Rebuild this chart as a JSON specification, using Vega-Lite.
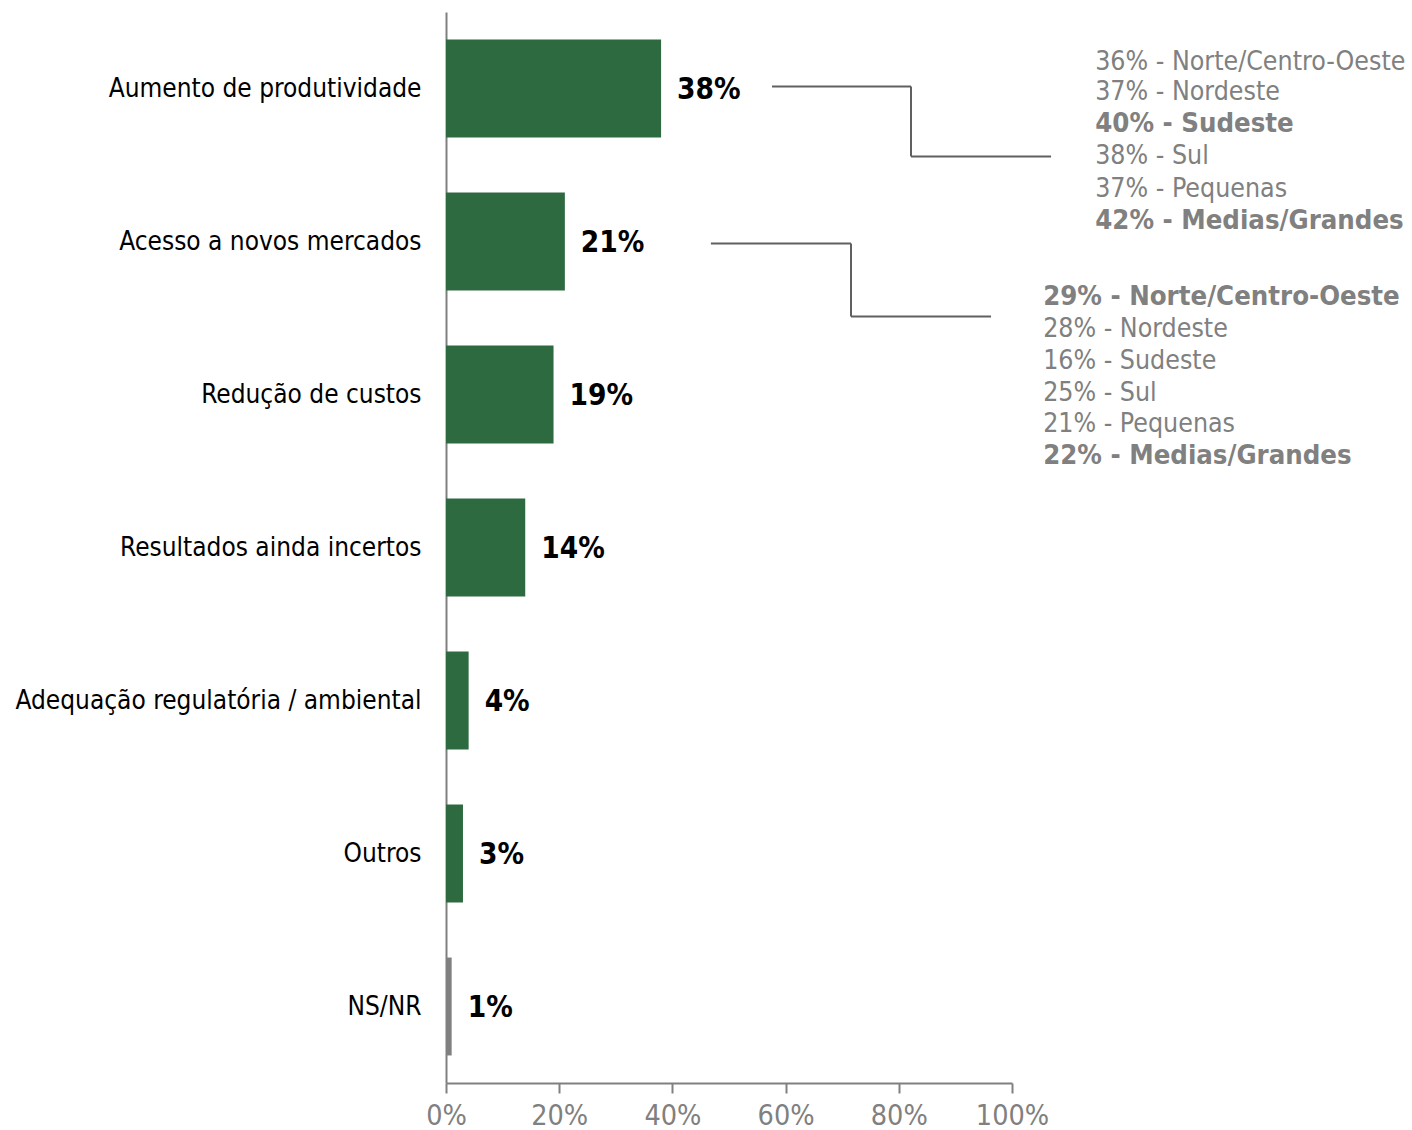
{
  "$schema": "https://vega.github.io/schema/vega-lite/v6.json",
  "autosize": "none",
  "width": 566,
  "height": 1071,
  "padding": {"left": 446, "top": 12, "right": 400, "bottom": 47},
  "background": "white",
  "config": {
    "view": {"stroke": null},
    "font": "DejaVu Sans Condensed",
    "text": {"font": "DejaVu Sans Condensed"}
  },
  "datasets": {
    "bars": [
      {"cat": "Aumento de produtividade", "value": 0.38, "label": "38%", "grp": "main"},
      {"cat": "Acesso a novos mercados", "value": 0.21, "label": "21%", "grp": "main"},
      {"cat": "Redução de custos", "value": 0.19, "label": "19%", "grp": "main"},
      {"cat": "Resultados ainda incertos", "value": 0.14, "label": "14%", "grp": "main"},
      {"cat": "Adequação regulatória / ambiental", "value": 0.04, "label": "4%", "grp": "main"},
      {"cat": "Outros", "value": 0.03, "label": "3%", "grp": "main"},
      {"cat": "NS/NR", "value": 0.01, "label": "1%", "grp": "nsnr"}
    ],
    "notes": [
      {"x": 1.147, "y": 0.324, "text": "36% - Norte/Centro-Oeste", "bold": false},
      {"x": 1.147, "y": 0.526, "text": "37% - Nordeste", "bold": false},
      {"x": 1.147, "y": 0.735, "text": "40% - Sudeste", "bold": true},
      {"x": 1.147, "y": 0.944, "text": "38% - Sul", "bold": false},
      {"x": 1.147, "y": 1.154, "text": "37% - Pequenas", "bold": false},
      {"x": 1.147, "y": 1.363, "text": "42% - Medias/Grandes", "bold": true},
      {"x": 1.055, "y": 1.866, "text": "29% - Norte/Centro-Oeste", "bold": true},
      {"x": 1.055, "y": 2.069, "text": "28% - Nordeste", "bold": false},
      {"x": 1.055, "y": 2.278, "text": "16% - Sudeste", "bold": false},
      {"x": 1.055, "y": 2.487, "text": "25% - Sul", "bold": false},
      {"x": 1.055, "y": 2.696, "text": "21% - Pequenas", "bold": false},
      {"x": 1.055, "y": 2.905, "text": "22% - Medias/Grandes", "bold": true}
    ],
    "connectors": [
      {"x1": 0.576, "x2": 0.8216, "y1": 0.487, "y2": 0.487},
      {"x1": 0.8216, "x2": 0.8216, "y1": 0.487, "y2": 0.944},
      {"x1": 0.8216, "x2": 1.069, "y1": 0.944, "y2": 0.944},
      {"x1": 0.468, "x2": 0.7155, "y1": 1.513, "y2": 1.513},
      {"x1": 0.7155, "x2": 0.7155, "y1": 1.513, "y2": 1.99},
      {"x1": 0.7155, "x2": 0.963, "y1": 1.99, "y2": 1.99}
    ]
  },
  "layer": [
    {
      "data": {"name": "bars"},
      "layer": [
        {
          "mark": {"type": "bar"},
          "encoding": {
            "y": {
              "field": "cat", "type": "nominal", "sort": null,
              "scale": {"paddingInner": 0.36, "paddingOuter": 0.18},
              "axis": {
                "title": null, "ticks": false, "domain": true, "domainColor": "#808080", "domainWidth": 2,
                "labelFontSize": 26, "labelColor": "#000000", "labelPadding": 25,
                "labelFont": "DejaVu Sans Condensed", "labelLimit": 600
              }
            },
            "x": {
              "field": "value", "type": "quantitative",
              "scale": {"domain": [0, 1], "nice": false, "zero": true},
              "axis": {
                "title": null, "format": ".0%", "values": [0, 0.2, 0.4, 0.6, 0.8, 1],
                "grid": false, "domainColor": "#808080", "domainWidth": 2,
                "tickColor": "#808080", "tickSize": 10, "tickWidth": 2,
                "labelFontSize": 28.5, "labelColor": "#808080", "labelPadding": 8,
                "labelFlush": false, "labelOverlap": false,
                "labelFont": "DejaVu Sans Condensed"
              }
            },
            "color": {
              "field": "grp", "type": "nominal",
              "scale": {"domain": ["main", "nsnr"], "range": ["#2E6A40", "#808080"]},
              "legend": null
            }
          }
        },
        {
          "mark": {"type": "text", "align": "left", "baseline": "middle", "dx": 16, "dy": 1, "fontSize": 29.5, "fontWeight": "bold", "color": "#000000"},
          "encoding": {
            "y": {"field": "cat", "type": "nominal", "sort": null},
            "x": {"field": "value", "type": "quantitative"},
            "text": {"field": "label"}
          }
        }
      ]
    },
    {
      "layer": [
        {
          "data": {"name": "connectors"},
          "mark": {"type": "rule", "color": "#606060", "strokeWidth": 2},
          "encoding": {
            "x": {"field": "x1", "type": "quantitative"},
            "x2": {"field": "x2"},
            "y": {"field": "y1", "type": "quantitative", "scale": {"domain": [0, 7], "reverse": true, "nice": false, "zero": false}, "axis": null},
            "y2": {"field": "y2"}
          }
        },
        {
          "data": {"name": "notes"},
          "transform": [{"filter": "!datum.bold"}],
          "mark": {"type": "text", "align": "left", "baseline": "middle", "fontSize": 26.5, "color": "#808080"},
          "encoding": {
            "x": {"field": "x", "type": "quantitative"},
            "y": {"field": "y", "type": "quantitative"},
            "text": {"field": "text"}
          }
        },
        {
          "data": {"name": "notes"},
          "transform": [{"filter": "datum.bold"}],
          "mark": {"type": "text", "align": "left", "baseline": "middle", "fontSize": 27.3, "fontWeight": "bold", "color": "#808080"},
          "encoding": {
            "x": {"field": "x", "type": "quantitative"},
            "y": {"field": "y", "type": "quantitative"},
            "text": {"field": "text"}
          }
        }
      ]
    }
  ],
  "resolve": {"scale": {"y": "independent"}, "axis": {"y": "independent"}}
}
